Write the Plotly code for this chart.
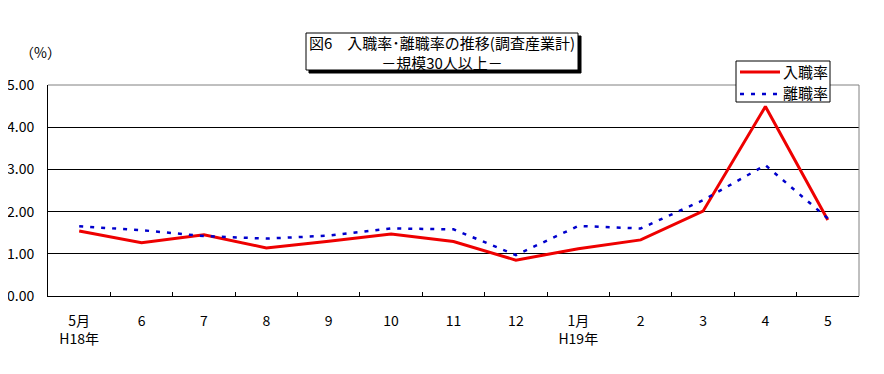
import plotly.graph_objects as go

months = ["5月<br>H18年", "6", "7", "8", "9", "10", "11", "12", "1月<br>H19年", "2", "3", "4", "5"]
hire_rate = [1.54, 1.26, 1.45, 1.14, 1.30, 1.47, 1.29, 0.85, 1.12, 1.33, 2.01, 4.49, 1.80]
sep_rate = [1.65, 1.56, 1.42, 1.36, 1.43, 1.60, 1.58, 0.97, 1.66, 1.60, 2.27, 3.10, 1.84]
series_names = ["入職率", "離職率"]
y_ticks = [0, 1, 2, 3, 4, 5]

FONT = "Noto Sans CJK JP"
W, H = 884, 374
OFF = 8  # page body margin offset
# target plot area in screen pixels: x 48..859, y 85..296
L, T = 48 - OFF, 85 - OFF
R = W - (859 - OFF)
B = H - (296 - OFF)
pw, ph = W - L - R, H - T - B

def px_x(p):
    return (p - OFF - L) / pw

def px_y(p):
    return (H - B - (p - OFF)) / ph

RED = dict(color="#ee0000", width=3)
BLUE = dict(color="#0000cc", width=2.5, dash="4px,7px")

fig = go.Figure()
fig.add_trace(go.Scatter(x=months, y=hire_rate, name=series_names[0], mode="lines", line=RED))
fig.add_trace(go.Scatter(x=months, y=sep_rate, name=series_names[1], mode="lines", line=BLUE))

shapes = [
    dict(type="line", xref="paper", yref="paper", x0=0, x1=1, y0=1, y1=1,
         line=dict(color="#808080", width=1), layer="above"),
    dict(type="line", xref="paper", yref="paper", x0=1, x1=1, y0=0, y1=1,
         line=dict(color="#808080", width=1), layer="above"),
    # title box shadow and box
    dict(type="rect", xref="paper", yref="paper",
         x0=px_x(309), x1=px_x(581), y0=px_y(73), y1=px_y(36),
         fillcolor="black", line=dict(color="black", width=1), layer="above"),
    dict(type="rect", xref="paper", yref="paper",
         x0=px_x(306), x1=px_x(578), y0=px_y(70), y1=px_y(33),
         fillcolor="white", line=dict(color="black", width=1), layer="above"),
    # legend box and keys
    dict(type="rect", xref="paper", yref="paper",
         x0=px_x(736), x1=px_x(830), y0=px_y(102), y1=px_y(61),
         fillcolor="white", line=dict(color="black", width=1), layer="above"),
    dict(type="line", xref="paper", yref="paper",
         x0=px_x(740), x1=px_x(780), y0=px_y(72), y1=px_y(72),
         line=RED, layer="above"),
    dict(type="line", xref="paper", yref="paper",
         x0=px_x(740), x1=px_x(780), y0=px_y(94), y1=px_y(94),
         line=BLUE, layer="above"),
]

annotations = [
    dict(text="図6　入職率･離職率の推移(調査産業計)<br>－規模30人以上－",
         xref="paper", yref="paper", x=px_x(442), y=px_y(52),
         xanchor="center", yanchor="middle", showarrow=False,
         font=dict(family=FONT, size=15, color="black")),
    dict(text="（%）", xref="paper", yref="paper", x=px_x(40), y=px_y(52),
         xanchor="center", yanchor="middle", showarrow=False,
         font=dict(family=FONT, size=14, color="black")),
    dict(text=series_names[0], xref="paper", yref="paper", x=px_x(781), y=px_y(72),
         xanchor="left", yanchor="middle", showarrow=False,
         font=dict(family=FONT, size=15, color="black")),
    dict(text=series_names[1], xref="paper", yref="paper", x=px_x(781), y=px_y(93),
         xanchor="left", yanchor="middle", showarrow=False,
         font=dict(family=FONT, size=15, color="black")),
]

fig.update_layout(
    width=W, height=H,
    margin=dict(l=L, r=R, t=T, b=B, autoexpand=False),
    paper_bgcolor="white", plot_bgcolor="white",
    font=dict(family=FONT, size=14, color="black"),
    showlegend=False,
    shapes=shapes,
    annotations=annotations,
)
fig.update_xaxes(type="category", range=[-0.5, len(months) - 0.5],
                 showline=True, linecolor="black", linewidth=1,
                 ticks="inside", ticklen=4, tickcolor="black", tickson="boundaries",
                 showgrid=False, ticklabelstandoff=12,
                 tickfont=dict(family=FONT, size=14, color="black"))
fig.update_yaxes(range=[0, 5], tickvals=y_ticks, tickformat=".2f",
                 showline=True, linecolor="black", linewidth=1,
                 showgrid=True, gridcolor="black", gridwidth=1,
                 zeroline=False, ticks="", ticklabelstandoff=10,
                 tickfont=dict(family=FONT, size=14, color="black"))

fig.write_html("out.html")
